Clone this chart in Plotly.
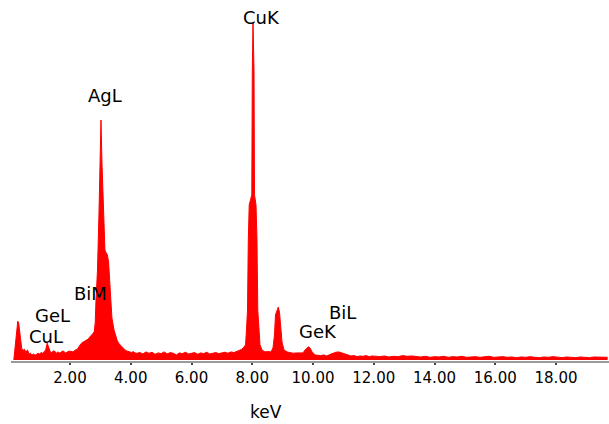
import plotly.graph_objects as go

# Energy (keV) and counts (arbitrary units)
kev_low = [0.15, 0.19, 0.23, 0.28, 0.31, 0.34, 0.37, 0.41, 0.45, 0.50, 0.55, 0.60, 0.65, 0.70, 0.75,
           0.80, 0.85, 0.90, 0.95, 1.00, 1.05, 1.10, 1.15, 1.20, 1.25, 1.30, 1.35, 1.40, 1.45, 1.50,
           1.55, 1.60, 1.65, 1.70, 1.75, 1.80, 1.85, 1.90, 1.95, 2.00, 2.05, 2.10, 2.15, 2.20, 2.25, 2.30]
cnt_low = [0, 40, 85, 115, 110, 90, 55, 35, 28, 32, 22, 30, 18, 20, 15,
           18, 14, 17, 20, 18, 22, 20, 25, 30, 50, 38, 24, 22, 27, 26,
           20, 24, 21, 22, 27, 25, 21, 23, 26, 26, 24, 24, 28, 30, 33, 40]

kev_ag = [2.35, 2.40, 2.45, 2.50, 2.55, 2.60, 2.65, 2.70, 2.75, 2.80, 2.83, 2.856, 2.905, 2.955, 2.987,
          3.02, 3.053, 3.10, 3.15, 3.18, 3.23, 3.27, 3.32, 3.35, 3.38, 3.45, 3.50, 3.55, 3.60, 3.65,
          3.70, 3.75, 3.81, 3.87, 3.92, 3.97, 4.03, 4.08, 4.14, 4.20]
cnt_ag = [48, 52, 54, 57, 60, 62, 68, 72, 78, 85, 110, 178, 267, 439, 584,
          712, 584, 439, 326, 320, 312, 291, 208, 163, 125, 89, 70, 59, 50, 45,
          40, 33, 30, 27, 26, 24, 22, 25, 21, 20]

kev_mid = [4.3, 4.4, 4.5, 4.6, 4.7, 4.8, 4.9, 5.0, 5.1, 5.2, 5.3, 5.4, 5.5, 5.6, 5.7, 5.8, 5.9,
           6.0, 6.1, 6.2, 6.3, 6.4, 6.5, 6.6, 6.7, 6.8, 6.9, 7.0, 7.1, 7.2, 7.3, 7.4, 7.5, 7.6]
cnt_mid = [22, 18, 24, 20, 23, 17, 21, 19, 24, 18, 22, 20, 15, 21, 19, 23, 18,
           20, 22, 17, 21, 19, 23, 18, 20, 22, 19, 21, 23, 20, 24, 22, 26, 28]

kev_cu = [7.66, 7.72, 7.78, 7.81, 7.844, 7.87, 7.90, 7.942, 7.985, 8.002, 8.025, 8.058, 8.074, 8.124,
          8.156, 8.182, 8.216, 8.255, 8.32, 8.42, 8.50, 8.58,
          8.617, 8.683, 8.732, 8.765, 8.815, 8.858, 8.897, 8.937, 8.98, 9.045, 9.144, 9.25, 9.35,
          9.45, 9.57, 9.67, 9.74, 9.80, 9.85, 9.90, 9.97, 10.07]
cnt_cu = [32, 38, 45, 89, 148, 356, 460, 475, 490, 860, 1000, 860, 490, 460,
          356, 148, 89, 45, 30, 24, 25, 23,
          24, 36, 74, 134, 148, 157, 142, 104, 53, 30, 24, 22, 20,
          21, 22, 21, 30, 36, 39, 36, 24, 15]

kev_high = [10.15, 10.25, 10.35, 10.45, 10.55, 10.65, 10.75, 10.85, 10.95, 11.05, 11.15, 11.25, 11.35,
            11.45, 11.55, 11.65, 11.75, 11.85, 11.95, 12.05, 12.2, 12.35, 12.5, 12.65, 12.8, 12.95,
            13.1, 13.25, 13.4, 13.55, 13.7, 13.85, 14.0, 14.15, 14.3, 14.45, 14.6, 14.75, 14.9, 15.05,
            15.2, 15.35, 15.5, 15.65, 15.8, 15.95, 16.1, 16.25, 16.4, 16.55, 16.7, 16.85, 17.0, 17.15,
            17.3, 17.45, 17.6, 17.75, 17.9, 18.05, 18.2, 18.35, 18.5, 18.65, 18.8, 18.95, 19.1, 19.25,
            19.4, 19.55, 19.7]
cnt_high = [14, 13, 15, 12, 16, 20, 23, 24, 21, 19, 14, 12, 13,
            10, 12, 11, 13, 10, 12, 11, 10, 12, 9, 11, 10, 13,
            11, 12, 10, 9, 11, 8, 10, 9, 11, 8, 10, 9, 11, 8,
            9, 10, 8, 9, 11, 8, 9, 10, 8, 9, 7, 9, 8, 10,
            8, 7, 9, 8, 10, 8, 7, 9, 8, 7, 9, 8, 7, 9,
            8, 7, 8]

tick_vals = [2, 4, 6, 8, 10, 12, 14, 16, 18]
tick_text = ["2.00", "4.00", "6.00", "8.00", "10.00", "12.00", "14.00", "16.00", "18.00"]

peak_labels = ["CuK", "AgL", "BiM", "GeL", "CuL", "GeK", "BiL"]
label_kev = [8.29, 3.15, 2.69, 1.44, 1.21, 10.16, 10.96]
label_cnt = [1015, 786, 196, 131, 71, 86, 142]

kev = kev_low + kev_ag + kev_mid + kev_cu + kev_high
cnt = cnt_low + cnt_ag + cnt_mid + cnt_cu + cnt_high

FONT = "DejaVu Sans"

fig = go.Figure()
fig.add_trace(go.Scatter(
    x=kev, y=cnt, mode="lines", fill="tozeroy",
    line=dict(color="#ff0000", width=1), fillcolor="#ff0000",
    hoverinfo="skip", showlegend=False,
))

for t, xk, yc in zip(peak_labels, label_kev, label_cnt):
    fig.add_annotation(x=xk, y=yc, xref="x", yref="y", text=t, showarrow=False,
                       font=dict(family=FONT, size=18, color="black"),
                       xanchor="center", yanchor="middle")

fig.add_annotation(x=8.45, y=-0.141, xref="x", yref="paper", text="keV", showarrow=False,
                   font=dict(family=FONT, size=17, color="black"),
                   xanchor="center", yanchor="middle")

fig.update_layout(
    width=609, height=424,
    margin=dict(l=11, r=0, t=0, b=63),
    paper_bgcolor="white", plot_bgcolor="white",
    xaxis=dict(range=[0.0576, 19.745], showgrid=False, zeroline=False,
               showline=True, linecolor="#9a9a9a", linewidth=2,
               ticks="outside", ticklen=2, tickwidth=2, tickcolor="#444444",
               tickvals=tick_vals, ticktext=tick_text,
               tickfont=dict(family=FONT, size=15, color="black")),
    yaxis=dict(range=[-2.97, 1068.2], visible=False, showgrid=False, zeroline=False),
)

fig.write_html("out.html")
